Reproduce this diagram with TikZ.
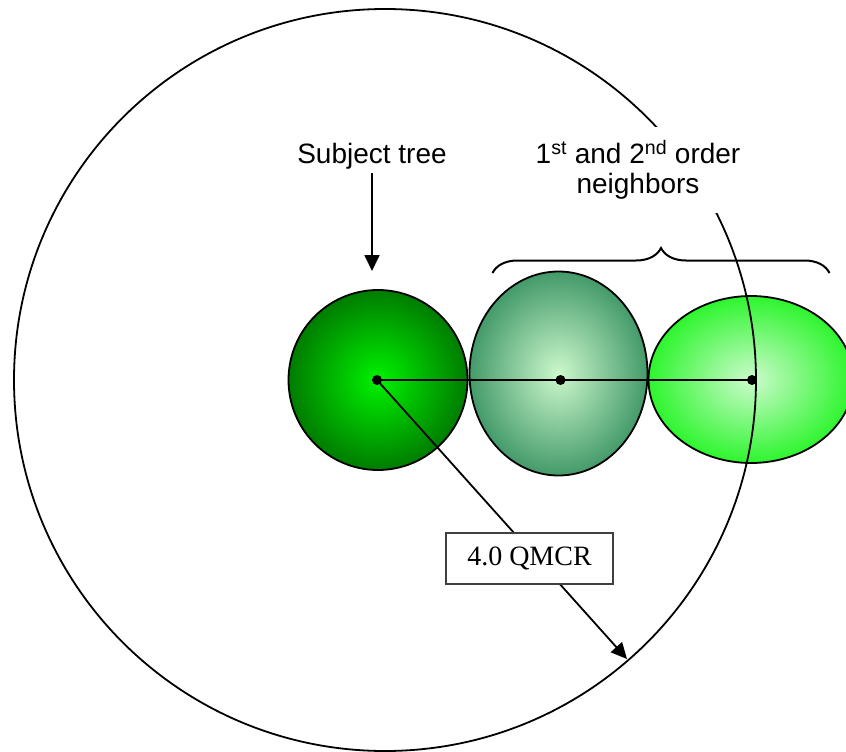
\documentclass[tikz,border=0pt]{standalone}
\usepackage{fontspec}
\setmainfont{Liberation Serif}
\setsansfont{Liberation Sans}
\usetikzlibrary{arrows.meta,shapes.geometric,decorations.pathreplacing}
\definecolor{subjin}{HTML}{00F200}
\definecolor{subjout}{HTML}{007C00}
\definecolor{firstin}{HTML}{CCF8CC}
\definecolor{firstout}{HTML}{449A6A}
\definecolor{secondin}{HTML}{CCFBCC}
\definecolor{secondout}{HTML}{2EF52E}
\definecolor{boxgray}{HTML}{404040}

\begin{document}
\begin{tikzpicture}[
    x=1pt, y=-1pt,
    every node/.style={text=black},
    tree/.style={
        ellipse,
        draw=black,
        line width=1.8pt,
        inner sep=0pt
    },
    zone/.style={
        circle,
        draw=black,
        line width=1.8pt,
        inner sep=0pt
    },
    dot/.style={
        circle,
        fill=black,
        minimum size=10pt,
        inner sep=0pt
    },
    link/.style={
        line width=1.8pt
    },
    arrow/.style={
        -{Triangle[length=16pt,width=15pt]},
        line width=1.8pt
    },
    sflabel/.style={
        font=\sffamily\fontsize{28}{30}\selectfont,
        align=center
    },
    radiusbox/.style={
        draw=boxgray,
        line width=1.8pt,
        fill=white,
        minimum width=167pt,
        minimum height=51pt,
        inner sep=0pt,
        font=\fontsize{28}{30}\selectfont
    },
    brace/.style={
        decorate,
        decoration={brace, amplitude=25pt},
        line width=2pt
    }
]
\useasboundingbox (0,0) rectangle (846,752);

% trees
\node[tree, minimum width=179pt, minimum height=180pt,
    inner color=subjin, outer color=subjout] (subject) at (378,380) {};
\node[tree, minimum width=178pt, minimum height=204pt,
    inner color=firstin, outer color=firstout] (first) at (558.5,373.5) {};
\node[tree, minimum width=205pt, minimum height=167pt,
    inner color=secondin, outer color=secondout] (second) at (751,379.5) {};

% search radius
\node[zone, minimum size=742pt] (zone) at (385,380) {};

\node[dot] (c0) at (377,380) {};
\node[dot] (c1) at (560.5,380) {};
\node[dot] (c2) at (752,380) {};
\coordinate (rim) at (627,659);

\draw[link] (c0.center) -- (c1.center) -- (c2.center);
\draw[arrow] (c0.center) -- (rim);

\node[radiusbox] (qmcr) at (529.5,558.5) {4.0 QMCR};

% labels
\node[sflabel, anchor=base, inner sep=4pt] (subjlabel) at (372,163) {Subject tree};
\coordinate (subjtip) at (372,271);
\draw[arrow] (subjlabel) -- (subjtip);

\node[sflabel, fill=white, minimum height=86pt, inner sep=0pt] (nbrlabel)
    at (638,170) {1\textsuperscript{st} and 2\textsuperscript{nd} order\\neighbors};

\coordinate (bleft) at (492.5,273);
\coordinate (bright) at (829.5,273);
\draw[brace] (bleft) -- (bright);

\end{tikzpicture}
\end{document}
